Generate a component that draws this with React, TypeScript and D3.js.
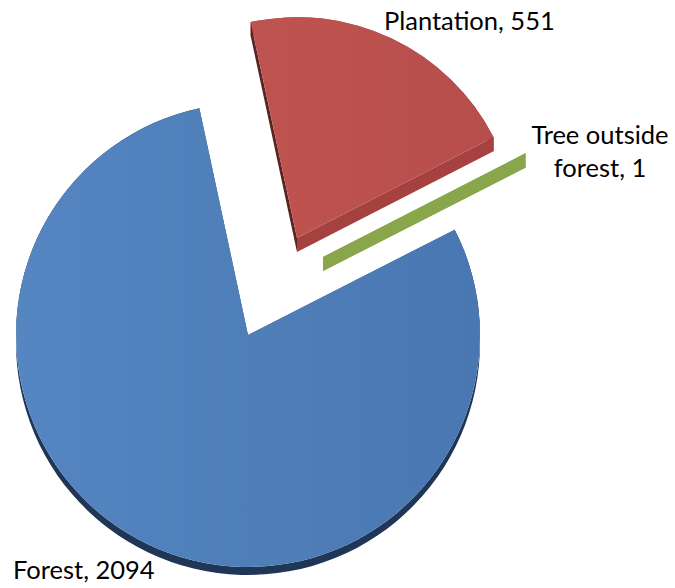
import React from 'react';
import * as d3 from 'd3';

// ---- data ----
const categories = ['Forest', 'Plantation', 'Tree outside forest'];
const values = [2094, 551, 1];
const labelTexts = [['Forest, 2094'], ['Plantation, 551'], ['Tree outside', 'forest, 1']];

// ---- layout / style ----
const W = 675;
const H = 588;
const R = 232;
const START = (63 * Math.PI) / 180;
const centers = [[248, 335], [297, 238], [323, 257]];
const radiusScale = [1, 0.952, 0.98];
const depths = [8, 14, 14];
const labelPos = [
  { x: 13, y: 579, anchor: 'start' },
  { x: 384, y: 30, anchor: 'start' },
  { x: 600, y: 144, anchor: 'middle' },
];
const topColors = [['#5586C1', '#4977B1'], ['#BF5350', '#B74E4B'], ['#8FAE50', '#8AA74A']];
const startFaceColors = ['#2A4A75', '#5A2422', '#89A64B'];
const endFaceColors = ['#2A4A75', '#A5413E', '#89A64B'];
const outerFaceColors = ['#1F3656', '#8E3835', '#7C9A40'];
const FONT = 'Lato, Calibri, Carlito, sans-serif';
const FONT_SIZE = 25.5;

function pt(cx: number, cy: number, r: number, a: number): [number, number] {
  return [cx + r * Math.sin(a), cy - r * Math.cos(a)];
}

export default function App() {
  const pie = d3
    .pie<number>()
    .sort(null)
    .startAngle(START)
    .endAngle(START + 2 * Math.PI);
  const arcs = pie(values);
  const drawOrder = [1, 2, 0];

  return (
    <svg
      width={W}
      height={H}
      viewBox={`0 0 ${W} ${H}`}
      style={{ position: 'absolute', left: 0, top: 0, background: '#fff' }}
    >
      <defs>
        {topColors.map((c, i) => (
          <linearGradient key={i} id={`top${i}`} x1="0" y1="0" x2="1" y2="0">
            <stop offset="0" stopColor={c[0]} />
            <stop offset="1" stopColor={c[1]} />
          </linearGradient>
        ))}
      </defs>
      {drawOrder.map((i) => {
        const a = arcs[i];
        const [cx, cy] = centers[i];
        const r = R * radiusScale[i];
        const d = depths[i];
        const a0 = a.startAngle;
        const a1 = a.endAngle;
        // outer curved face
        const op = d3.path();
        const s0 = pt(cx, cy, r, a0);
        op.moveTo(s0[0], s0[1]);
        op.arc(cx, cy, r, a0 - Math.PI / 2, a1 - Math.PI / 2, false);
        const e1 = pt(cx, cy + d, r, a1);
        op.lineTo(e1[0], e1[1]);
        op.arc(cx, cy + d, r, a1 - Math.PI / 2, a0 - Math.PI / 2, true);
        op.closePath();
        const radial = (ang: number) => {
          const p = pt(cx, cy, r, ang);
          return `M${cx},${cy}L${p[0]},${p[1]}L${p[0]},${p[1] + d}L${cx},${cy + d}Z`;
        };
        const top = d3
          .arc<any>()
          .innerRadius(0)
          .outerRadius(r)
          .startAngle(a0)
          .endAngle(a1)({} as any) as string;
        return (
          <g key={categories[i]}>
            <path d={op.toString()} fill={outerFaceColors[i]} />
            <path d={radial(a0)} fill={startFaceColors[i]} />
            <path d={radial(a1)} fill={endFaceColors[i]} />
            <path d={top} transform={`translate(${cx},${cy})`} fill={`url(#top${i})`} />
          </g>
        );
      })}
      {labelTexts.map((lines, i) => (
        <text
          key={i}
          x={labelPos[i].x}
          y={labelPos[i].y}
          textAnchor={labelPos[i].anchor as any}
          fontFamily={FONT}
          fontSize={FONT_SIZE}
          fill="#000"
        >
          {lines.map((ln, j) => (
            <tspan key={j} x={labelPos[i].x} dy={j === 0 ? 0 : 33}>
              {ln}
            </tspan>
          ))}
        </text>
      ))}
    </svg>
  );
}
